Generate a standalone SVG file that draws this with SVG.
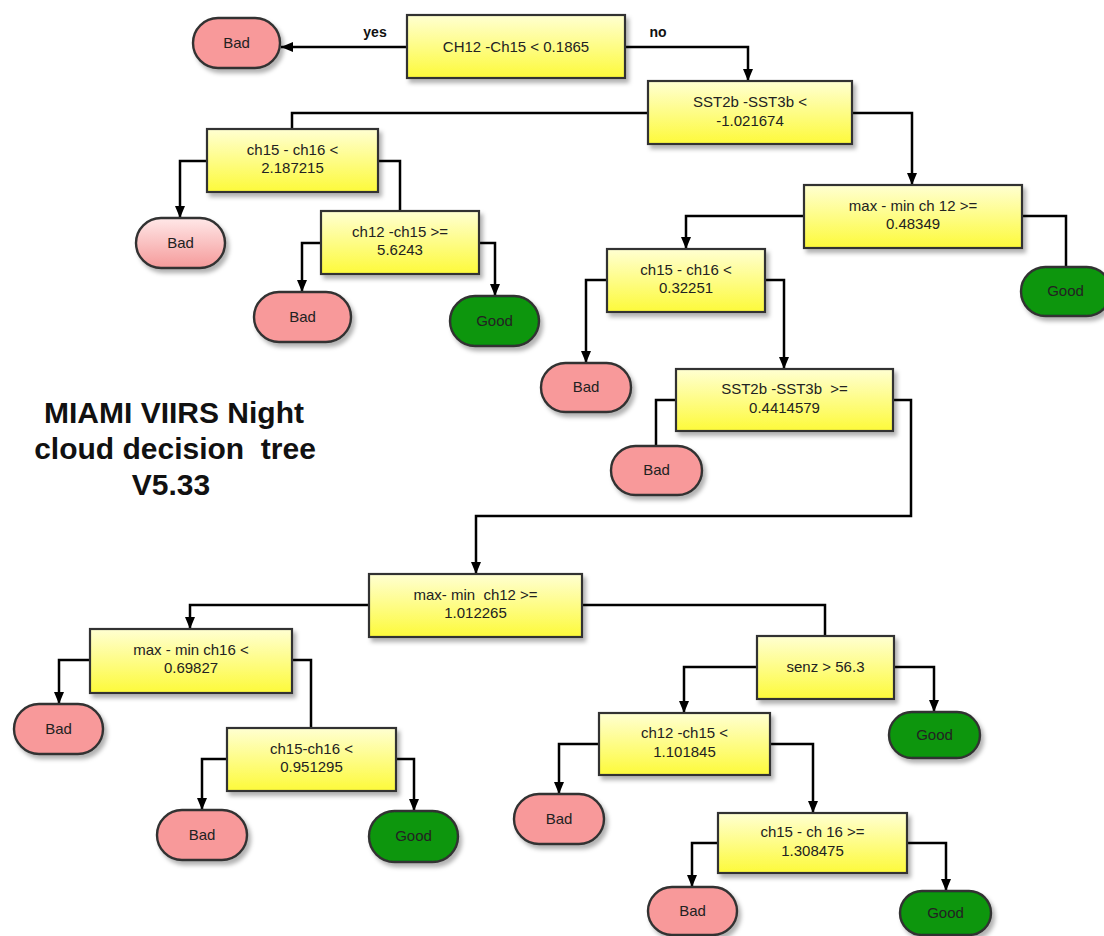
<svg xmlns="http://www.w3.org/2000/svg" width="1104" height="936" viewBox="0 0 1104 936" xml:space="preserve">
<style>
.dec{fill:url(#gy);stroke:#333;stroke-width:2.2;filter:url(#sh)}
.bad{fill:#f8999a;stroke:#333;stroke-width:2.4;filter:url(#sh)}
.badl{fill:url(#gp);stroke:#333;stroke-width:2.4;filter:url(#sh)}
.good{fill:#07960a;stroke:#333;stroke-width:2.4;filter:url(#sh)}
text{font-family:"Liberation Sans",Arial,sans-serif;font-size:15px;fill:#222;text-anchor:middle;white-space:pre}
.lbl{font-weight:bold;font-size:14px;fill:#111}
.title{font-weight:bold;font-size:30px;fill:#111}
.c{fill:none;stroke:#000;stroke-width:2.5}
.a{marker-end:url(#ah)}
</style>
<defs>
<linearGradient id="gy" x1="0" y1="0" x2="0" y2="1">
<stop offset="0" stop-color="#ffffd2"/>
<stop offset="1" stop-color="#fdfa3a"/>
</linearGradient>
<linearGradient id="gp" x1="0" y1="0" x2="0" y2="1">
<stop offset="0" stop-color="#ffe8e8"/>
<stop offset="1" stop-color="#f59a9a"/>
</linearGradient>
<filter id="sh" x="-10%" y="-10%" width="130%" height="140%">
<feDropShadow dx="3" dy="4" stdDeviation="2" flood-color="#000" flood-opacity="0.3"/>
</filter>
<marker id="ah" viewBox="0 0 12 10" refX="12" refY="5" markerWidth="12" markerHeight="10" markerUnits="userSpaceOnUse" orient="auto">
<path d="M0,0 L12,5 L0,10 z" fill="#000"/>
</marker>
</defs>
<rect width="1104" height="936" fill="#fff"/>
<g id="connectors">
<path class="c a" d="M407,47 H281"/>
<path class="c a" d="M625,47 H748 V81"/>
<path class="c" d="M648,113 H292 V129"/>
<path class="c a" d="M852,113 H912 V185"/>
<path class="c a" d="M207,161 H180 V218"/>
<path class="c" d="M378,161 H400 V211"/>
<path class="c a" d="M321,243 H302 V292"/>
<path class="c a" d="M479,243 H495 V296"/>
<path class="c a" d="M804,216 H686 V249"/>
<path class="c" d="M1022,216 H1066 V267"/>
<path class="c a" d="M607,280 H586 V363"/>
<path class="c a" d="M765,280 H784 V369"/>
<path class="c" d="M676,400 H656 V446"/>
<path class="c a" d="M893,400 H911 V516 H476 V574"/>
<path class="c a" d="M369,605 H190 V629"/>
<path class="c" d="M582,605 H825 V636"/>
<path class="c a" d="M90,660 H59 V704"/>
<path class="c" d="M292,660 H311 V728"/>
<path class="c a" d="M227,759 H202 V810"/>
<path class="c a" d="M396,759 H414 V811"/>
<path class="c a" d="M757,667 H684 V713"/>
<path class="c a" d="M894,667 H934 V712"/>
<path class="c a" d="M599,744 H559 V794"/>
<path class="c a" d="M770,744 H813 V813"/>
<path class="c a" d="M718,843 H692 V887"/>
<path class="c a" d="M907,843 H946 V891"/>
<text class="lbl" x="375" y="37">yes</text>
<text class="lbl" x="658" y="37">no</text>
</g>
<g id="title">
<text class="title" x="174" y="423">MIAMI VIIRS Night</text>
<text class="title" x="175" y="459">cloud decision  tree</text>
<text class="title" x="171" y="495">V5.33</text>
</g>
<g id="n_root"><rect class="dec" x="407" y="15" width="218" height="63"/><text x="516" y="52">CH12 -Ch15 &lt; 0.1865</text></g>
<g id="bad1"><rect class="bad" x="193" y="18" width="87" height="50" rx="25"/><text x="236.5" y="48">Bad</text></g>
<g id="n_sst1"><rect class="dec" x="648" y="81" width="204" height="63"/><text x="750" y="107">SST2b -SST3b &lt;</text><text x="750" y="126">-1.021674</text></g>
<g id="n_a"><rect class="dec" x="207" y="129" width="171" height="63"/><text x="292.5" y="155">ch15 - ch16 &lt;</text><text x="292.5" y="173">2.187215</text></g>
<g id="bad2"><rect class="badl" x="136" y="218" width="89" height="50" rx="25"/><text x="180.5" y="248">Bad</text></g>
<g id="n_b"><rect class="dec" x="321" y="211" width="158" height="63"/><text x="400" y="237">ch12 -ch15 &gt;=</text><text x="400" y="255">5.6243</text></g>
<g id="bad3"><rect class="bad" x="254" y="292" width="97" height="50" rx="25"/><text x="302.5" y="322">Bad</text></g>
<g id="good1"><rect class="good" x="450" y="296" width="89" height="50" rx="25"/><text x="494.5" y="326">Good</text></g>
<g id="n_c"><rect class="dec" x="804" y="185" width="218" height="63"/><text x="913" y="211">max - min ch 12 &gt;=</text><text x="913" y="229">0.48349</text></g>
<g id="good2"><rect class="good" x="1021" y="267" width="90" height="49" rx="24.5"/><text x="1065.5" y="296">Good</text></g>
<g id="n_d"><rect class="dec" x="607" y="249" width="158" height="63"/><text x="686" y="275">ch15 - ch16 &lt;</text><text x="686" y="293">0.32251</text></g>
<g id="bad4"><rect class="bad" x="541" y="363" width="90" height="49" rx="24.5"/><text x="586" y="392">Bad</text></g>
<g id="n_e"><rect class="dec" x="676" y="369" width="217" height="62"/><text x="784.5" y="394">SST2b -SST3b  &gt;=</text><text x="784.5" y="413">0.4414579</text></g>
<g id="bad5"><rect class="bad" x="611" y="446" width="91" height="49" rx="24.5"/><text x="656.5" y="475">Bad</text></g>
<g id="n_f"><rect class="dec" x="369" y="574" width="213" height="63"/><text x="475.5" y="600">max- min  ch12 &gt;=</text><text x="475.5" y="618">1.012265</text></g>
<g id="n_g"><rect class="dec" x="90" y="629" width="202" height="64"/><text x="191" y="655">max - min ch16 &lt;</text><text x="191" y="673">0.69827</text></g>
<g id="bad6"><rect class="bad" x="14" y="704" width="89" height="50" rx="25"/><text x="58.5" y="734">Bad</text></g>
<g id="n_h"><rect class="dec" x="227" y="728" width="169" height="63"/><text x="311.5" y="754">ch15-ch16 &lt;</text><text x="311.5" y="772">0.951295</text></g>
<g id="bad7"><rect class="bad" x="157" y="810" width="90" height="50" rx="25"/><text x="202" y="840">Bad</text></g>
<g id="good3"><rect class="good" x="369" y="811" width="89" height="51" rx="25.5"/><text x="413.5" y="841">Good</text></g>
<g id="n_i"><rect class="dec" x="757" y="636" width="137" height="63"/><text x="825.5" y="672">senz &gt; 56.3</text></g>
<g id="good4"><rect class="good" x="889" y="712" width="91" height="46" rx="23"/><text x="934.5" y="740">Good</text></g>
<g id="n_j"><rect class="dec" x="599" y="713" width="171" height="62"/><text x="684.5" y="738">ch12 -ch15 &lt;</text><text x="684.5" y="757">1.101845</text></g>
<g id="bad8"><rect class="bad" x="514" y="794" width="90" height="50" rx="25"/><text x="559" y="824">Bad</text></g>
<g id="n_k"><rect class="dec" x="718" y="813" width="189" height="60"/><text x="812.5" y="837">ch15 - ch 16 &gt;=</text><text x="812.5" y="856">1.308475</text></g>
<g id="bad9"><rect class="bad" x="648" y="887" width="89" height="48" rx="24"/><text x="692.5" y="916">Bad</text></g>
<g id="good5"><rect class="good" x="900" y="891" width="91" height="44" rx="22"/><text x="945.5" y="918">Good</text></g>
</svg>
